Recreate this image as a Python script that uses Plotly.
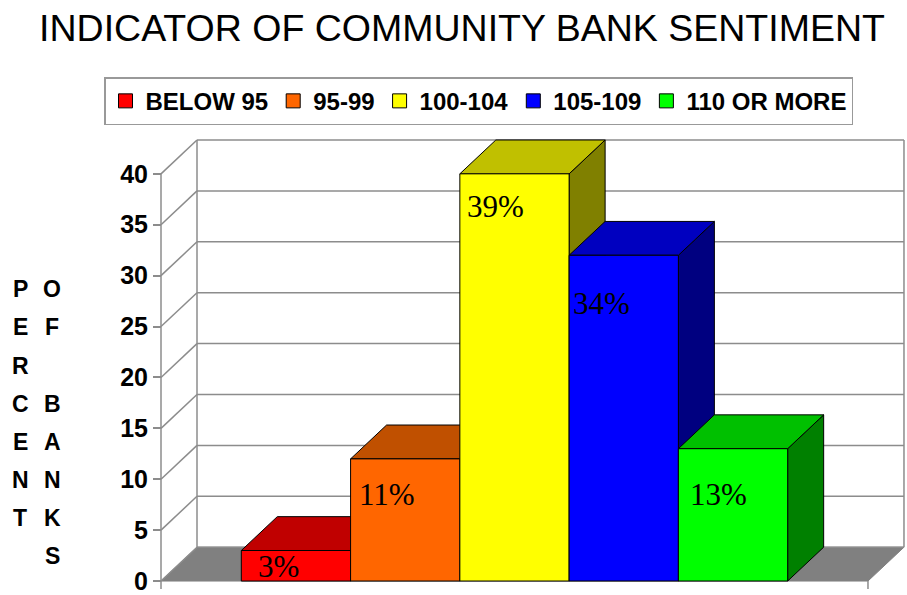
import plotly.graph_objects as go

# ---------------- data ----------------
categories = ["BELOW 95", "95-99", "100-104", "105-109", "110 OR MORE"]
bar_heights = [3, 12, 40, 32, 13]
label_texts = ["3%", "11%", "39%", "34%", "13%"]
y_ticks = [0, 5, 10, 15, 20, 25, 30, 35, 40]
y_title_col1 = ["P", "E", "R", "C", "E", "N", "T", ""]
y_title_col2 = ["O", "F", "", "B", "A", "N", "K", "S"]

# ---------------- style ----------------
front_colors = ["#FF0000", "#FF6600", "#FFFF00", "#0000FF", "#00FF00"]
top_colors = ["#C00000", "#C05000", "#C0C000", "#0000C0", "#00C000"]
side_colors = ["#800000", "#803300", "#808000", "#000080", "#008000"]
label_offsets = [(15, 4), (6, -16), (5, -13), (2, -29), (10, -26)]  # px shifts for data labels

W, H = 907, 595
L, R, T, B = 150, 0, 138, 2
plot_w, plot_h = W - L - R, H - T - B
x_px = 109.27          # px per category unit
y_px = 10.225          # px per value unit
pad = 0.735            # floor extension beyond bars (category units)
front_left_px = 161
floor_front_px = 583
depth_x = 36 / x_px
depth_y = 34 / y_px
tick_len = 8 / y_px

n = len(categories)
xmin = -0.5 - pad
xmax = n - 0.5 + pad
x0 = xmin - (front_left_px - L) / x_px
x_range = [x0, x0 + plot_w / x_px]
y0 = -(H - B - floor_front_px) / y_px
y_range = [y0, y0 + plot_h / y_px]
ytop = max(y_ticks)

GRID = "#8c8c8c"
FONT = "Liberation Sans, Arial, sans-serif"

fig = go.Figure()

# floor
fig.add_trace(go.Scatter(
    x=[xmin, xmax, xmax + depth_x, xmin + depth_x, xmin],
    y=[0, 0, depth_y, depth_y, 0],
    fill="toself", fillcolor="#808080", mode="lines",
    line=dict(color="#808080", width=1), showlegend=False, hoverinfo="skip"))

# walls / gridlines
gx, gy = [], []
for v in y_ticks:
    gx += [xmin + depth_x, xmax + depth_x, None, xmin, xmin + depth_x, None]
    gy += [v + depth_y, v + depth_y, None, v, v + depth_y, None]
gx += [xmin, xmin, None, xmin + depth_x, xmin + depth_x, None, xmax + depth_x, xmax + depth_x, None]
gy += [-tick_len, ytop, None, depth_y, ytop + depth_y, None, depth_y, ytop + depth_y, None]
gx += [xmax, xmax, None]
gy += [0, -tick_len, None]
fig.add_trace(go.Scatter(x=gx, y=gy, mode="lines", line=dict(color=GRID, width=1.5),
                         showlegend=False, hoverinfo="skip"))

# 3D bars
for i, v in enumerate(bar_heights):
    a, b = i - 0.5, i + 0.5
    # side face
    fig.add_trace(go.Scatter(
        x=[b, b, b + depth_x, b + depth_x, b], y=[0, v, v + depth_y, depth_y, 0],
        fill="toself", fillcolor=side_colors[i], mode="lines",
        line=dict(color="black", width=1), showlegend=False, hoverinfo="skip"))
    # top face
    fig.add_trace(go.Scatter(
        x=[a, b, b + depth_x, a + depth_x, a], y=[v, v, v + depth_y, v + depth_y, v],
        fill="toself", fillcolor=top_colors[i], mode="lines",
        line=dict(color="black", width=1), showlegend=False, hoverinfo="skip"))
    # front face
    fig.add_trace(go.Scatter(
        x=[a, b, b, a, a], y=[0, 0, v, v, 0],
        fill="toself", fillcolor=front_colors[i], mode="lines",
        line=dict(color="black", width=1), showlegend=False, hoverinfo="skip"))

# legend entries
for i, c in enumerate(categories):
    fig.add_trace(go.Scatter(
        x=[None], y=[None], mode="markers", name=c,
        marker=dict(symbol="square", size=14, color=front_colors[i],
                    line=dict(color="black", width=1))))

# data labels
for i, (v, t) in enumerate(zip(bar_heights, label_texts)):
    dx, dy = label_offsets[i]
    fig.add_annotation(x=i - 0.5, y=v, xref="x", yref="y", text=t, showarrow=False,
                       xanchor="left", yanchor="top", xshift=dx, yshift=dy,
                       font=dict(family="Liberation Serif, Times New Roman, serif", size=31, color="black"))

# y-axis title letters
def px2paper(px, py):
    return (px - L) / plot_w, (H - B - py) / plot_h

for r, (c1, c2) in enumerate(zip(y_title_col1, y_title_col2)):
    py = 290 + 38.3 * r
    for col_x, ch in ((20, c1), (52, c2)):
        if ch:
            xp, yp = px2paper(col_x, py)
            fig.add_annotation(x=xp, y=yp, xref="paper", yref="paper", text=ch, showarrow=False,
                               xanchor="center", yanchor="middle",
                               font=dict(family=FONT, size=23, color="black", weight="bold"))

fig.update_layout(
    width=W, height=H,
    margin=dict(l=L, r=R, t=T, b=B, pad=0),
    paper_bgcolor="white", plot_bgcolor="white",
    hovermode=False,
    title=dict(text="INDICATOR OF COMMUNITY BANK SENTIMENT", x=462 / W, xref="container",
               xanchor="center", y=1 - 28 / H, yref="container", yanchor="middle",
               font=dict(family="Liberation Sans, Arial", size=37.5, color="black")),
    legend=dict(orientation="h", x=(104 - L) / plot_w, xanchor="left",
                y=1 + (T - 77) / plot_h, yanchor="top",
                bordercolor="#999999", borderwidth=1.5, bgcolor="white",
                font=dict(family=FONT, size=24, color="black", weight="bold"),
                itemwidth=30, tracegroupgap=0),
    xaxis=dict(range=x_range, showgrid=False, zeroline=False, showline=False,
               showticklabels=False, ticks=""),
    yaxis=dict(range=y_range, showgrid=False, zeroline=False, showline=False,
               tickvals=y_ticks, ticks="outside", ticklen=8, tickcolor=GRID, tickwidth=1.5,
               tickfont=dict(family=FONT, size=25, color="black", weight="bold"),
               ticklabeloverflow="allow",
               anchor="free", position=(front_left_px - L) / plot_w),
)

fig.write_html("out.html")
